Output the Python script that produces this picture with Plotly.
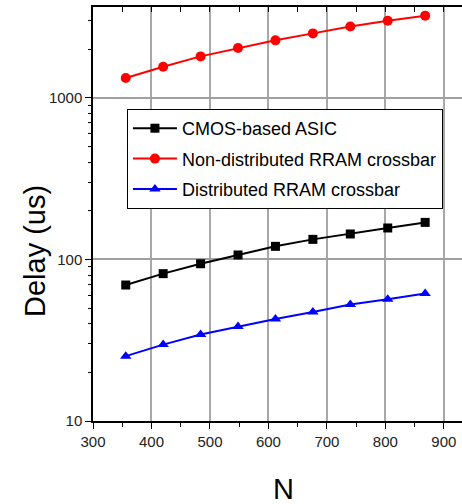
import plotly.graph_objects as go

N = [356, 420, 484, 548, 612, 676, 740, 804, 868]
cmos = [69.4, 81.6, 94.0, 106.5, 120.4, 133.0, 143.6, 156.4, 169.4]
nondist = [1324, 1556, 1803, 2032, 2266, 2502, 2763, 2998, 3221]
dist = [25.2, 29.7, 34.3, 38.5, 42.8, 47.3, 52.6, 56.7, 61.5]

names = ["CMOS-based ASIC", "Non-distributed RRAM crossbar", "Distributed RRAM crossbar"]
xticks = [300, 400, 500, 600, 700, 800, 900]
yticks = [10, 100, 1000]

FONT = "Liberation Sans, Arial, sans-serif"

fig = go.Figure()
fig.add_trace(go.Scatter(x=N, y=cmos, name=names[0], mode="lines+markers", legendgroup="a",
                         line=dict(color="black", width=2),
                         marker=dict(symbol="square", size=9, color="black")))
fig.add_trace(go.Scatter(x=N, y=nondist, name=names[1], mode="lines+markers", legendgroup="b",
                         line=dict(color="#ff0000", width=2),
                         marker=dict(symbol="circle", size=10, color="#ff0000")))
fig.add_trace(go.Scatter(x=N, y=dist, name=names[2], mode="lines+markers", legendgroup="c",
                         line=dict(color="#0000ff", width=2),
                         marker=dict(symbol="triangle-up", size=10, color="#0000ff")))
# invisible trace for top axis
fig.add_trace(go.Scatter(x=[300], y=[100], xaxis="x2", mode="markers",
                         marker=dict(opacity=0), showlegend=False, hoverinfo="skip"))

minor_y = [m * 10 ** k for k in range(1, 4) for m in range(2, 10) if m * 10 ** k < 3700]

fig.update_layout(
    width=462, height=504,
    margin=dict(l=93, r=0, t=7, b=83, autoexpand=False),
    paper_bgcolor="white", plot_bgcolor="white",
    font=dict(family=FONT, color="#222"),
    showlegend=True,
    legend=dict(x=0.092, y=0.7536, xanchor="left", yanchor="top",
                bgcolor="white", bordercolor="black", borderwidth=1,
                font=dict(family=FONT, size=18, color="black"),
                itemwidth=44, tracegroupgap=4, traceorder="grouped"),
    xaxis=dict(range=[300, 931], tickvals=xticks, ticks="outside", ticklen=6,
               tickwidth=1, tickcolor="black", showline=True, linecolor="black",
               linewidth=1.5, showgrid=True, gridcolor="#a8a8a8", gridwidth=1.5,
               zeroline=False, tickangle=0, tickfont=dict(size=15, color="#222"),
               minor=dict(dtick=50, tick0=300, ticks="outside", ticklen=4,
                          tickcolor="black", showgrid=False)),
    xaxis2=dict(range=[300, 931], overlaying="x", side="top", tickvals=xticks,
                ticks="inside", ticklen=5, tickcolor="black", showline=True,
                linecolor="black", linewidth=1.5, showticklabels=False,
                showgrid=False, zeroline=False,
                minor=dict(dtick=50, tick0=300, ticks="inside", ticklen=5,
                           tickcolor="black", showgrid=False)),
    yaxis=dict(type="log", range=[1, 3.5616], tickvals=yticks,
               ticktext=[str(v) for v in yticks], ticks="outside", ticklen=6,
               tickcolor="black", showline=True, linecolor="black", linewidth=1.5,
               showgrid=True, gridcolor="#a0a0a0", gridwidth=1.5, zeroline=False,
               tickfont=dict(size=15, color="#222"),
               minor=dict(tickvals=minor_y, ticks="outside", ticklen=3,
                          tickcolor="black", showgrid=False)),
    annotations=[
        dict(text="Delay (us)", x=35, y=251, xref="paper", yref="paper",
             xanchor="center", yanchor="middle",
             showarrow=False, textangle=-90, font=dict(family=FONT, size=29, color="black")),
        dict(text="N", x=283, y=489, xref="paper", yref="paper",
             xanchor="center", yanchor="middle",
             showarrow=False, font=dict(family=FONT, size=29, color="black")),
    ],
)
# convert pixel annotation positions to paper coords
pw, ph = 462 - 93, 504 - 7 - 83
for a in fig.layout.annotations:
    a.x = (a.x - 93) / pw
    a.y = (421 - a.y) / ph

fig.write_html("out.html")
